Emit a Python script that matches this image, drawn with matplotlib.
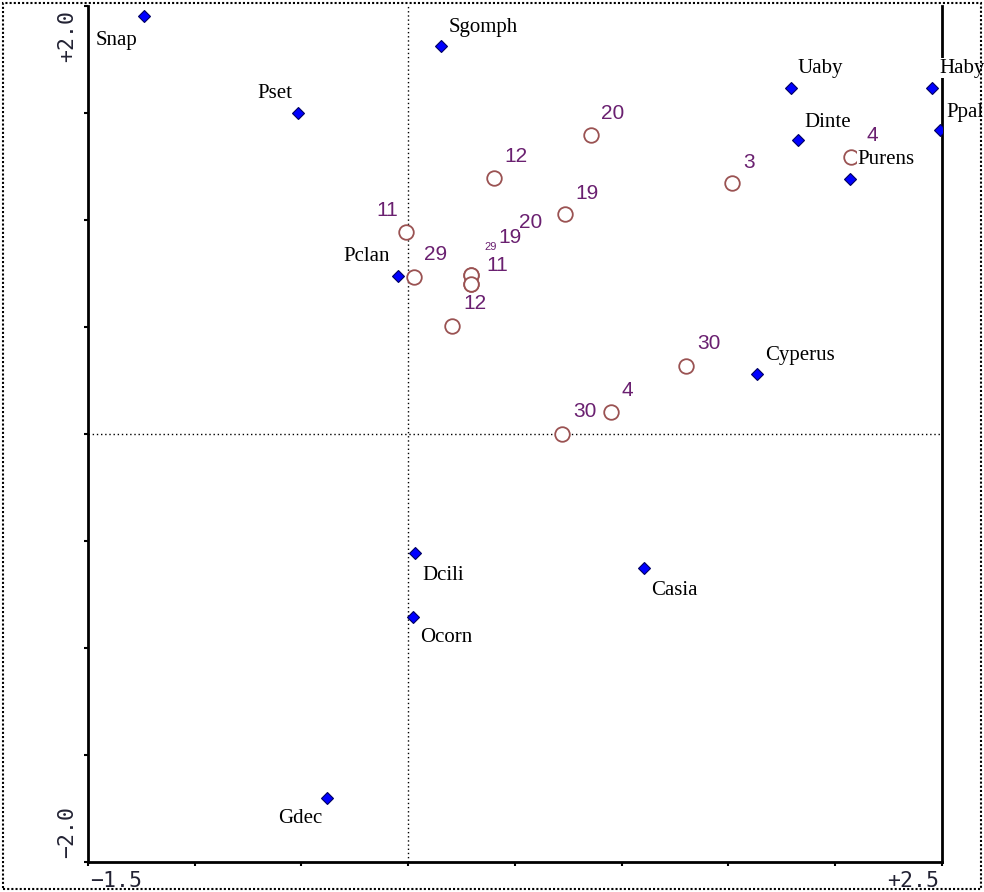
import matplotlib.pyplot as plt
from matplotlib.patches import Rectangle

# Species scores (blue diamonds)
species = ['Snap', 'Sgomph', 'Pset', 'Uaby', 'Haby', 'Dinte', 'Ppal', 'Purens',
           'Pclan', 'Cyperus', 'Dcili', 'Casia', 'Ocorn', 'Gdec']
species_x = [-1.238, 0.153, -0.516, 1.792, 2.452, 1.825, 2.490, 2.069,
             -0.048, 1.633, 0.031, 1.104, 0.022, -0.381]
species_y = [1.953, 1.813, 1.500, 1.617, 1.617, 1.374, 1.420, 1.192,
             0.738, 0.280, -0.556, -0.626, -0.855, -1.701]

# Sample scores (open circles)
samples = ['20', '12', '3', '4', '19', '11', '29', '11', '29', '19', '20',
           '12', '30', '4', '30']
sample_x = [0.856, 0.401, 1.516, 2.074, 0.734, -0.011, 0.027, 0.294, 0.294,
            0.294, 0.294, 0.205, 1.300, 0.950, 0.720]
sample_y = [1.397, 1.196, 1.173, 1.294, 1.028, 0.944, 0.734, 0.743, 0.700,
            0.743, 0.700, 0.505, 0.318, 0.103, 0.000]

# label placement (pixels from the point: dx, dy upwards, alignment, font size)
species_offsets = [(-7, -24, 'right'), (8, 19, 'left'), (-6, 20, 'right'),
                   (7, 20, 'left'), (8, 20, 'left'), (7, 18, 'left'),
                   (7, 18, 'left'), (7, 19, 'left'), (-8, 20, 'right'),
                   (8, 19, 'left'), (8, -22, 'left'), (7, -22, 'left'),
                   (7, -20, 'left'), (-5, -20, 'right')]
sample_offsets = [(10, 22, 'left', 15), (11, 22, 'left', 15), (11, 21, 'left', 15),
                  (15, 22, 'left', 15), (10, 21, 'left', 15), (-8, 22, 'right', 15),
                  (10, 22, 'left', 15), (15, 10, 'left', 15), (13, 37, 'left', 8),
                  (27, 38, 'left', 15), (48, 62, 'left', 15), (11, 22, 'left', 15),
                  (11, 22, 'left', 15), (10, 22, 'left', 15), (11, 23, 'left', 15)]

PX = 0.72  # points per pixel at dpi 100

fig = plt.figure(figsize=(9.84, 8.92), dpi=100)
ax = fig.add_axes([0.0894, 0.0336, 0.8679, 0.9596])
ax.set_xlim(-1.5, 2.5)
ax.set_ylim(-2.0, 2.0)

ax.axvline(0, color='black', linestyle=(0, (1, 2)), linewidth=1, zorder=1)
ax.axhline(0, color='black', linestyle=(0, (1, 2)), linewidth=1, zorder=1)

ax.plot(sample_x, sample_y, 'o', markersize=10.5, markerfacecolor='white',
        markeredgecolor='#9a5252', markeredgewidth=1.3, linestyle='none', zorder=2)
ax.plot(species_x, species_y, 'D', markersize=6, markerfacecolor='#0000ff',
        markeredgecolor='#000060', markeredgewidth=0.8, linestyle='none', zorder=3)

for name, x, y, (dx, dy, ha, fs) in zip(samples, sample_x, sample_y, sample_offsets):
    ax.annotate(name, (x, y), xytext=(dx * PX, dy * PX), textcoords='offset points',
                ha=ha, va='center', fontsize=fs, family='Liberation Sans',
                color='#6a2070', zorder=4,
                bbox=dict(facecolor='white', edgecolor='none', pad=0.3))

for name, x, y, (dx, dy, ha) in zip(species, species_x, species_y, species_offsets):
    ax.annotate(name, (x, y), xytext=(dx * PX, dy * PX), textcoords='offset points',
                ha=ha, va='center', fontsize=15, family='Liberation Serif',
                color='black', zorder=5, annotation_clip=False,
                bbox=dict(facecolor='white', edgecolor='none', pad=0.3))

# frame and ticks
for side in ['left', 'bottom', 'right']:
    ax.spines[side].set_linewidth(2)
ax.spines['top'].set_visible(False)
ax.set_xticks([-1.5 + 0.5 * i for i in range(9)])
ax.set_yticks([-2.0 + 0.5 * i for i in range(9)])
ax.tick_params(direction='out', length=3, width=1.5, labelbottom=False,
               labelleft=False)

tick_font = dict(family='DejaVu Sans Mono', fontsize=15.5, color='#222233')
ax.text(0.003, -0.010, '\u22121.5', transform=ax.transAxes, ha='left', va='top', **tick_font)
ax.text(0.997, -0.010, '+2.5', transform=ax.transAxes, ha='right', va='top', **tick_font)
ax.text(-0.013, 0.995, '+2.0', transform=ax.transAxes, ha='right', va='top',
        rotation=90, **tick_font)
ax.text(-0.013, 0.005, '\u22122.0', transform=ax.transAxes, ha='right', va='bottom',
        rotation=90, **tick_font)

# dotted border round the picture
fig.patches.append(Rectangle((0.003, 0.003), 0.994, 0.994, transform=fig.transFigure,
                             fill=False, edgecolor='black', linewidth=1.5,
                             linestyle=(0, (1, 1))))

fig.savefig('out.png', dpi=100)
